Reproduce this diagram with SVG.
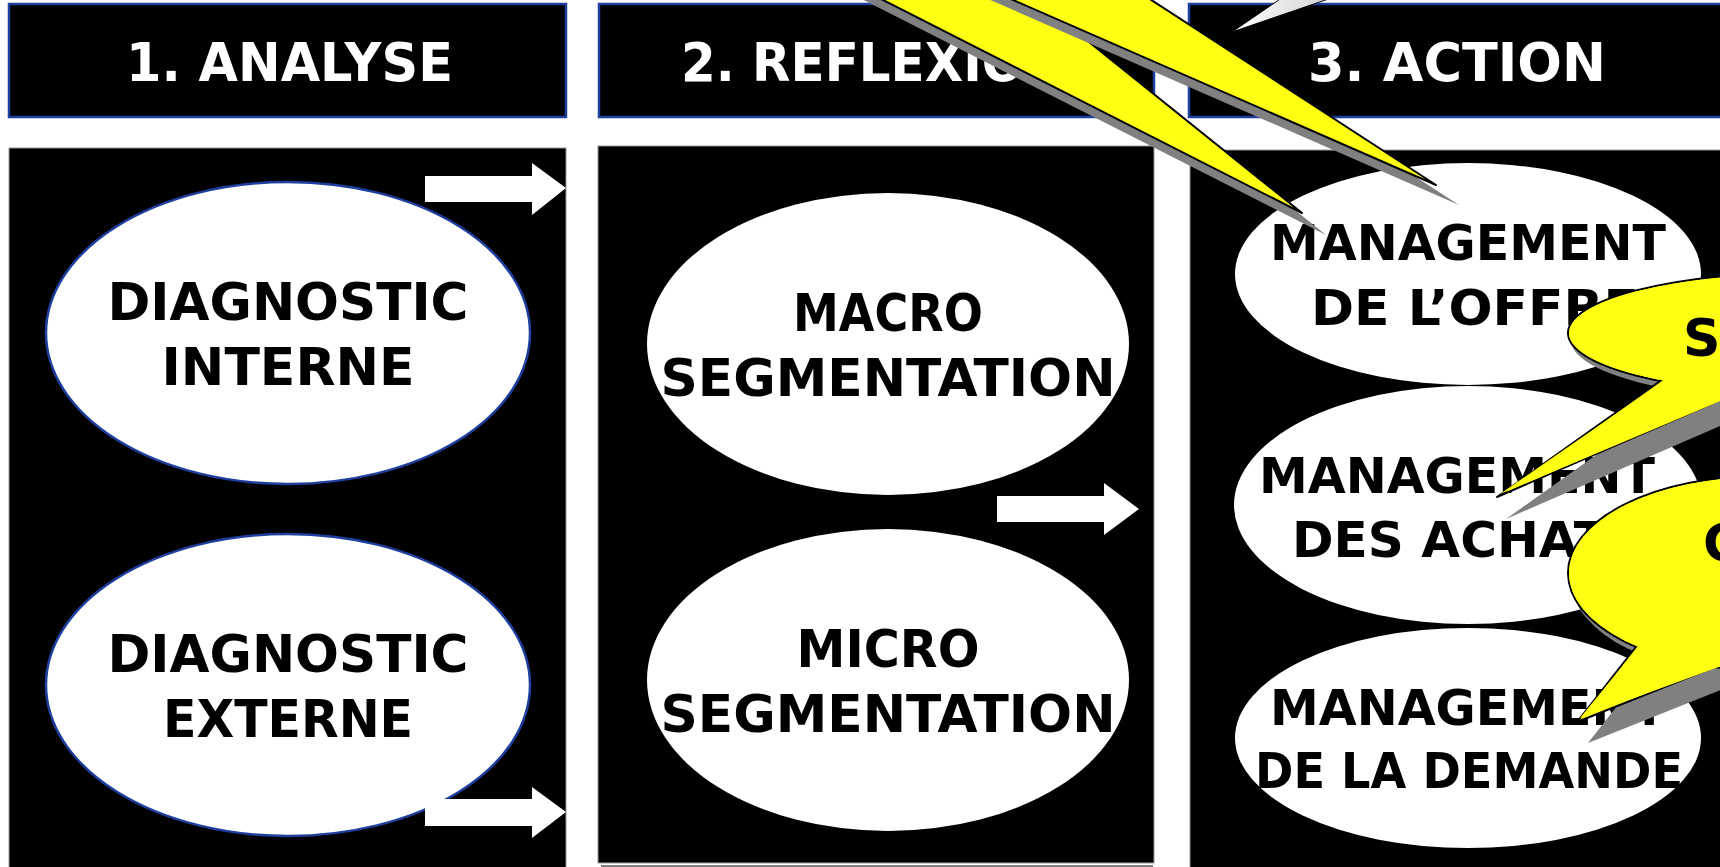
<svg xmlns="http://www.w3.org/2000/svg" width="1720" height="867" viewBox="0 0 1720 867">
<defs>
<style>
.hdr{fill:#000;stroke:#1f3f9f;stroke-width:2.5}
.panel{fill:#000;stroke:#9a9a9a;stroke-width:1}
.ht{font-family:"DejaVu Sans",sans-serif;font-weight:bold;font-size:54px;fill:#fff}
.et{font-family:"DejaVu Sans",sans-serif;font-weight:bold;font-size:52px;fill:#000;text-anchor:middle}
.et3{font-family:"DejaVu Sans",sans-serif;font-weight:bold;font-size:50px;fill:#000}
.ellb{fill:#fff;stroke:#1f3f9f;stroke-width:2.5}
.ell{fill:#fff}
.arr{fill:#fff}
.yel{fill:#ffff14;stroke:#000;stroke-width:2;stroke-linejoin:round}
.yelf{fill:#ffff14}
.shd{fill:#808080}
.bt{font-family:"DejaVu Sans",sans-serif;font-weight:bold;font-size:52px;fill:#000}
</style>
<linearGradient id="wg" x1="0" y1="0" x2="1" y2="0">
<stop offset="0" stop-color="#ffffff"/>
<stop offset="1" stop-color="#cfcfcf"/>
</linearGradient>
</defs>
<rect width="1720" height="867" fill="#fff"/>

<g id="header-analyse">
<rect class="hdr" x="9" y="4" width="557" height="113"/>
<text class="ht" x="126" y="81" textLength="327" lengthAdjust="spacingAndGlyphs">1. ANALYSE</text>
</g>
<g id="header-reflexion">
<rect class="hdr" x="599" y="4" width="555" height="113"/>
<text class="ht" x="681" y="81" textLength="385" lengthAdjust="spacingAndGlyphs">2. REFLEXION</text>
</g>
<g id="header-action">
<rect class="hdr" x="1189" y="4" width="540" height="113"/>
<text class="ht" x="1308" y="81" textLength="298" lengthAdjust="spacingAndGlyphs">3. ACTION</text>
</g>

<g id="panel-analyse">
<rect class="panel" x="9" y="148" width="557" height="730"/>
</g>
<g id="panel-reflexion">
<rect class="panel" x="598" y="146" width="556" height="717"/>
<line x1="601" y1="866" x2="1153" y2="866" stroke="#555" stroke-width="1.5"/>
</g>
<g id="panel-action">
<rect class="panel" x="1190" y="150" width="540" height="730"/>
</g>

<g id="diagnostic-interne">
<ellipse class="ellb" cx="288" cy="333" rx="242" ry="151"/>
<text class="et" x="288" y="320" textLength="361" lengthAdjust="spacingAndGlyphs">DIAGNOSTIC</text>
<text class="et" x="288" y="385" textLength="253" lengthAdjust="spacingAndGlyphs">INTERNE</text>
</g>
<g id="diagnostic-externe">
<ellipse class="ellb" cx="288" cy="685" rx="242" ry="151"/>
<text class="et" x="288" y="672" textLength="361" lengthAdjust="spacingAndGlyphs">DIAGNOSTIC</text>
<text class="et" x="288" y="737" textLength="250" lengthAdjust="spacingAndGlyphs">EXTERNE</text>
</g>
<g id="macro-segmentation">
<ellipse class="ell" cx="888" cy="344" rx="241" ry="151"/>
<text class="et" x="888" y="331" textLength="190" lengthAdjust="spacingAndGlyphs">MACRO</text>
<text class="et" x="888" y="396" textLength="455" lengthAdjust="spacingAndGlyphs">SEGMENTATION</text>
</g>
<g id="micro-segmentation">
<ellipse class="ell" cx="888" cy="680" rx="241" ry="151"/>
<text class="et" x="888" y="667" textLength="183" lengthAdjust="spacingAndGlyphs">MICRO</text>
<text class="et" x="888" y="732" textLength="455" lengthAdjust="spacingAndGlyphs">SEGMENTATION</text>
</g>
<g id="management-offre">
<ellipse class="ell" cx="1468" cy="274" rx="233" ry="111"/>
<text class="et3" x="1270" y="260" textLength="396" lengthAdjust="spacingAndGlyphs">MANAGEMENT</text>
<text class="et3" x="1311" y="325" textLength="328" lengthAdjust="spacingAndGlyphs">DE L’OFFRE</text>
</g>
<g id="management-achats">
<ellipse class="ell" cx="1468" cy="505" rx="234" ry="119"/>
<text class="et3" x="1259" y="493" textLength="396" lengthAdjust="spacingAndGlyphs">MANAGEMENT</text>
<text class="et3" x="1292" y="557" textLength="352" lengthAdjust="spacingAndGlyphs">DES ACHATS</text>
</g>
<g id="management-demande">
<ellipse class="ell" cx="1468" cy="738" rx="233" ry="110"/>
<text class="et3" x="1270" y="725" textLength="396" lengthAdjust="spacingAndGlyphs">MANAGEMENT</text>
<text class="et3" x="1255" y="788" textLength="428" lengthAdjust="spacingAndGlyphs">DE LA DEMANDE</text>
</g>

<g id="connectors">
<polygon class="arr" points="425,176 532,176 532,163 566,188 532,215 532,202 425,202"/>
<polygon class="arr" points="425,799 532,799 532,787 566,812 532,838 532,826 425,826"/>
<polygon class="arr" points="997,496 1104,496 1104,483 1139,509 1104,535 1104,522 997,522"/>
</g>

<g id="callout-spike-1">
<polygon class="shd" points="765,-60 1302,213 962,-60" transform="translate(24,22)"/>
<polygon class="yel" points="765,-60 1302,213 962,-60"/>
</g>
<g id="callout-spike-2">
<polygon class="shd" points="876,-60 1436,185 1059,-60" transform="translate(23,20)"/>
<polygon class="yel" points="876,-60 1436,185 1059,-60"/>
</g>
<g id="callout-white">
<polygon points="1232,32 1286,-5 1340,-5" fill="url(#wg)" stroke="#000" stroke-width="1"/>
</g>
<g id="callout-s">
<ellipse class="shd" cx="1803" cy="340" rx="232" ry="60"/>
<polygon class="shd" points="1680,367 1497,497 1780,374" transform="translate(9,22)"/>
<ellipse class="yel" cx="1800" cy="333" rx="232" ry="60"/>
<polygon class="yel" points="1680,367 1497,497 1780,374"/>
<ellipse class="yelf" cx="1800" cy="333" rx="231" ry="59"/>
<polygon class="yelf" points="1682,368 1500,494 1780,376"/>
<text class="bt" x="1683" y="356">S</text>
</g>
<g id="callout-c">
<ellipse class="shd" cx="1764" cy="580" rx="193" ry="97"/>
<polygon class="shd" points="1650,629 1577,722 1740,657" transform="translate(11,21)"/>
<ellipse class="yel" cx="1761" cy="573" rx="193" ry="97"/>
<polygon class="yel" points="1650,629 1577,722 1740,657"/>
<ellipse class="yelf" cx="1761" cy="573" rx="192" ry="96"/>
<polygon class="yelf" points="1652,630 1580,718 1740,659"/>
<text class="bt" x="1703" y="561">C</text>
</g>
</svg>
